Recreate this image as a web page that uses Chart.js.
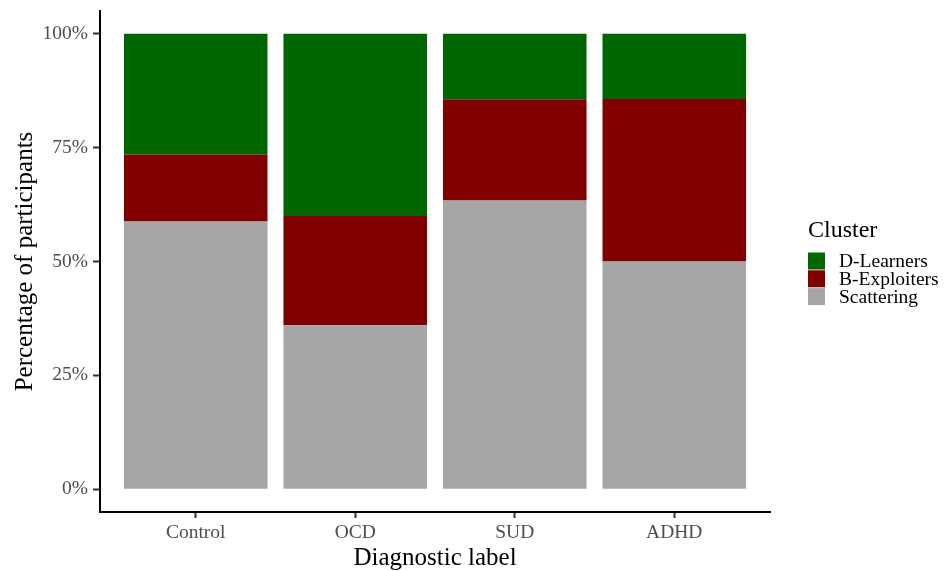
<!DOCTYPE html>
<html>
<head>
<meta charset="utf-8">
<script src="https://cdn.jsdelivr.net/npm/chart.js@4/dist/chart.umd.min.js"></script>
<style>
  html, body { margin: 0; padding: 0; background: #ffffff; }
  #wrap { width: 944px; height: 571px; }
</style>
</head>
<body>
<div id="wrap"><canvas id="chart" width="944" height="571"></canvas></div>
<script>
// Diagnostic groups on the x axis
const categories = ['Control', 'OCD', 'SUD', 'ADHD'];

// Share of participants (%) in each cluster, per group
const scattering  = [58.8, 36.0, 63.4, 50.0];
const bExploiters = [14.7, 24.0, 22.2, 35.7];
const dLearners   = [26.5, 40.0, 14.4, 14.3];

// Percentage axis ticks
const yTicks = [0, 25, 50, 75, 100];
const yTickLabels = ['0%', '25%', '50%', '75%', '100%'];

const SERIF = '"Liberation Serif", "Times New Roman", serif';

const toPoints = arr => arr.map((v, i) => ({ x: i, y: v }));

// Legend drawn to the right of the plot, top entry = top of the stack
const clusterLegend = {
  id: 'clusterLegend',
  afterDraw(chart) {
    const { ctx, chartArea } = chart;
    const x0 = chartArea.right + 38;
    const mid = (chartArea.top + chartArea.bottom) / 2;
    ctx.save();
    ctx.textAlign = 'left';
    ctx.textBaseline = 'middle';
    ctx.fillStyle = '#000000';
    ctx.font = '24px ' + SERIF;
    ctx.fillText('Cluster', x0, mid - 31);
    const items = chart.data.datasets.slice().reverse();
    const key = 17, step = 17.8;
    items.forEach((ds, i) => {
      const top = mid - 9 + i * step;
      ctx.fillStyle = ds.backgroundColor;
      ctx.fillRect(x0, top, key, key);
      ctx.fillStyle = '#000000';
      ctx.font = '19.5px ' + SERIF;
      ctx.fillText(ds.label, x0 + 31, top + key / 2 + 1);
    });
    ctx.restore();
  }
};

new Chart(document.getElementById('chart'), {
  type: 'bar',
  data: {
    datasets: [
      { label: 'Scattering',   data: toPoints(scattering),  backgroundColor: '#a6a6a6' },
      { label: 'B-Exploiters', data: toPoints(bExploiters), backgroundColor: '#800000' },
      { label: 'D-Learners',   data: toPoints(dLearners),   backgroundColor: '#006700' }
    ]
  },
  options: {
    responsive: false,
    animation: false,
    events: [],
    layout: { padding: { top: 11, right: 174, bottom: 0, left: 0 } },
    datasets: { bar: { categoryPercentage: 0.9, barPercentage: 1.0, borderWidth: 0 } },
    plugins: {
      legend: { display: false },
      tooltip: { enabled: false }
    },
    scales: {
      x: {
        type: 'linear',
        min: -0.6,
        max: 3.6,
        stacked: true,
        offset: false,
        grid: { offset: false, drawOnChartArea: false, drawTicks: true, tickLength: 6, tickWidth: 2, tickColor: '#333333' },
        border: { display: true, color: '#000000', width: 2 },
        afterBuildTicks: s => { s.ticks = categories.map((_, i) => ({ value: i })); },
        ticks: {
          autoSkip: false,
          maxRotation: 0,
          padding: 3,
          color: '#4d4d4d',
          font: { family: SERIF, size: 19.5 },
          callback: v => categories[v]
        },
        title: {
          display: true,
          text: 'Diagnostic label',
          color: '#000000',
          font: { family: SERIF, size: 25, lineHeight: 1.0 },
          padding: { top: 0, bottom: 0 }
        },
        afterFit: s => { s.height = 59; s.paddingLeft = 0; s.paddingRight = 0; }
      },
      y: {
        min: -5,
        max: 105,
        stacked: true,
        grid: { drawOnChartArea: false, drawTicks: true, tickLength: 7, tickWidth: 2, tickColor: '#333333' },
        border: { display: true, color: '#000000', width: 2 },
        afterBuildTicks: s => { s.ticks = yTicks.map(v => ({ value: v })); },
        ticks: {
          padding: 5,
          color: '#4d4d4d',
          font: { family: SERIF, size: 19.5 },
          callback: v => yTickLabels[yTicks.indexOf(v)]
        },
        title: {
          display: true,
          text: 'Percentage of participants',
          color: '#000000',
          font: { family: SERIF, size: 25 },
          padding: { top: 10, bottom: 0 }
        },
        afterFit: s => { s.width = 100; s.paddingTop = 0; s.paddingBottom = 0; }
      }
    }
  },
  plugins: [clusterLegend]
});
</script>
</body>
</html>
